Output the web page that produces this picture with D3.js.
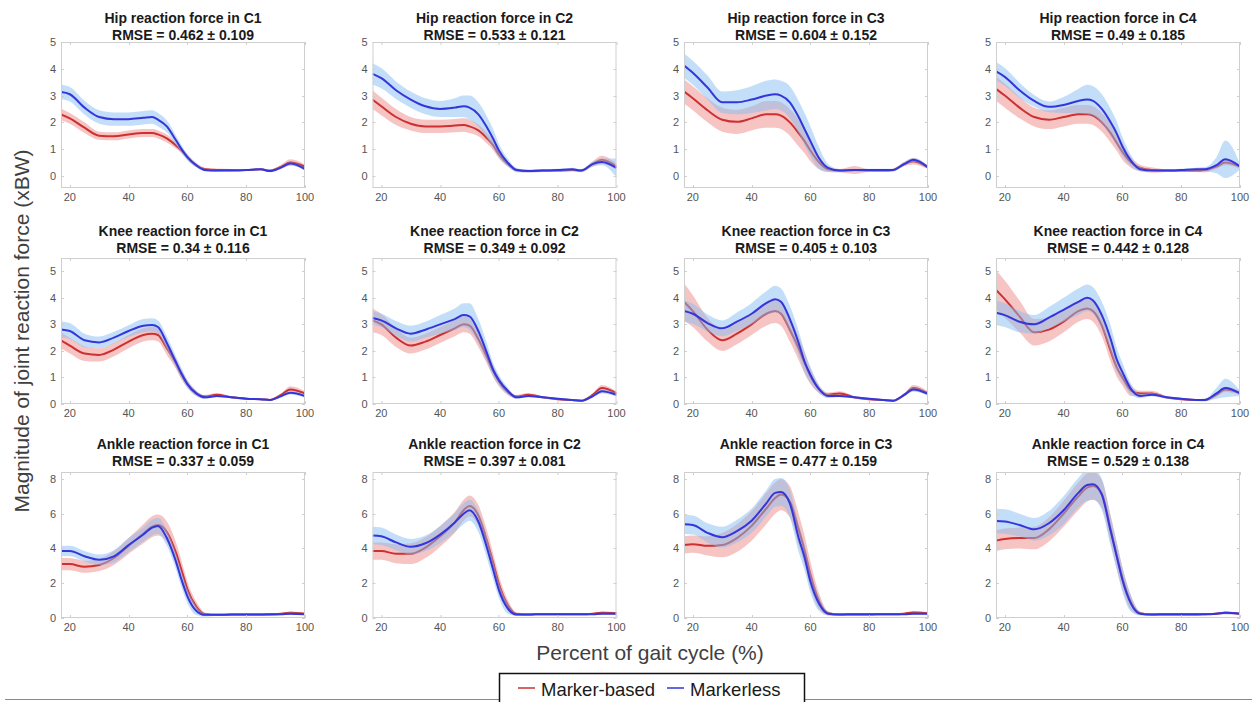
<!DOCTYPE html>
<html>
<head>
<meta charset="utf-8">
<script src="https://cdn.jsdelivr.net/npm/d3@7"></script>
<style>
  html, body { margin: 0; padding: 0; background: #fff; }
  svg { display: block; font-family: Arial, "Liberation Sans", Helvetica, sans-serif; }
</style>
</head>
<body>
<svg id="chart" width="1252" height="702"></svg>
<script>
// Percent of gait cycle sample points shared by every panel
const gaitPct = [17, 20, 25, 30, 35, 40, 45, 48, 50, 53, 56, 58, 60, 63, 66, 70, 75, 80, 85, 88, 92, 95, 100];

const joints = ["Hip", "Knee", "Ankle"];
const conditions = ["C1", "C2", "C3", "C4"];
const xTicks = [20, 40, 60, 80, 100];
const yTicksHipKnee = [0, 1, 2, 3, 4, 5];
const yTicksAnkle = [0, 2, 4, 6, 8];

// RMSE between systems (mean, sd) per joint and condition
const hipRmseMean = [0.462, 0.533, 0.604, 0.49];
const hipRmseSd = [0.109, 0.121, 0.152, 0.185];
const kneeRmseMean = [0.34, 0.349, 0.405, 0.442];
const kneeRmseSd = [0.116, 0.092, 0.103, 0.128];
const ankleRmseMean = [0.337, 0.397, 0.477, 0.529];
const ankleRmseSd = [0.059, 0.081, 0.159, 0.138];

// ---- Hip (xBW) ----
const hipC1Marker = [2.3,2.15,1.8,1.5,1.48,1.55,1.6,1.6,1.55,1.4,1.15,0.95,0.7,0.4,0.25,0.22,0.22,0.22,0.25,0.2,0.35,0.5,0.35];
const hipC1MarkerSd = [0.22,0.2,0.2,0.15,0.15,0.15,0.15,0.15,0.15,0.15,0.12,0.1,0.1,0.08,0.06,0.06,0.04,0.04,0.04,0.04,0.08,0.12,0.08];
const hipC1Markerless = [3.13,3.05,2.55,2.2,2.12,2.12,2.17,2.2,2.1,1.85,1.35,1.0,0.7,0.4,0.22,0.2,0.2,0.22,0.25,0.18,0.32,0.46,0.25];
const hipC1MarkerlessSd = [0.27,0.27,0.26,0.25,0.25,0.25,0.25,0.25,0.25,0.22,0.18,0.15,0.12,0.08,0.05,0.04,0.04,0.04,0.05,0.04,0.05,0.06,0.06];

const hipC2Marker = [2.85,2.6,2.2,1.95,1.85,1.85,1.88,1.9,1.85,1.7,1.4,1.15,0.8,0.45,0.22,0.18,0.2,0.2,0.22,0.2,0.45,0.6,0.35];
const hipC2MarkerSd = [0.35,0.33,0.3,0.25,0.25,0.25,0.25,0.25,0.25,0.22,0.2,0.18,0.15,0.1,0.06,0.05,0.05,0.05,0.05,0.05,0.1,0.15,0.1];
const hipC2Markerless = [3.81,3.65,3.2,2.85,2.6,2.5,2.55,2.6,2.55,2.3,1.8,1.4,0.95,0.5,0.22,0.18,0.2,0.22,0.25,0.2,0.45,0.52,0.3];
const hipC2MarkerlessSd = [0.4,0.38,0.33,0.3,0.3,0.3,0.35,0.4,0.45,0.45,0.4,0.35,0.25,0.15,0.08,0.05,0.05,0.05,0.06,0.06,0.1,0.12,0.35];

const hipC3Marker = [3.15,2.9,2.45,2.1,2.02,2.15,2.3,2.3,2.25,2.0,1.6,1.3,0.95,0.5,0.25,0.2,0.22,0.2,0.2,0.22,0.45,0.55,0.32];
const hipC3MarkerSd = [0.45,0.45,0.45,0.45,0.45,0.45,0.5,0.5,0.5,0.5,0.5,0.45,0.4,0.25,0.1,0.06,0.15,0.05,0.05,0.05,0.08,0.12,0.06];
const hipC3Markerless = [4.12,3.85,3.3,2.75,2.75,2.85,3.0,3.05,3.0,2.75,2.2,1.75,1.3,0.65,0.3,0.2,0.22,0.22,0.22,0.22,0.45,0.6,0.32];
const hipC3MarkerlessSd = [0.45,0.45,0.45,0.4,0.45,0.5,0.55,0.55,0.55,0.6,0.6,0.6,0.55,0.4,0.15,0.06,0.05,0.05,0.05,0.05,0.08,0.08,0.06];

const hipC4Marker = [3.25,3.0,2.55,2.2,2.1,2.2,2.3,2.3,2.25,2.0,1.6,1.25,0.9,0.5,0.3,0.22,0.2,0.2,0.2,0.22,0.35,0.5,0.35];
const hipC4MarkerSd = [0.45,0.45,0.4,0.35,0.35,0.35,0.35,0.35,0.35,0.35,0.35,0.3,0.3,0.2,0.12,0.1,0.05,0.05,0.05,0.08,0.08,0.1,0.08];
const hipC4Markerless = [3.9,3.7,3.2,2.8,2.58,2.65,2.8,2.85,2.8,2.5,2.0,1.6,1.1,0.55,0.25,0.2,0.2,0.22,0.25,0.25,0.4,0.62,0.35];
const hipC4MarkerlessSd = [0.35,0.33,0.28,0.22,0.2,0.3,0.45,0.55,0.55,0.55,0.5,0.45,0.35,0.2,0.08,0.05,0.05,0.05,0.06,0.08,0.3,0.7,0.1];

// ---- Knee (xBW) ----
const kneeC1Marker = [2.4,2.2,1.9,1.85,2.05,2.35,2.6,2.65,2.6,2.1,1.55,1.1,0.75,0.4,0.28,0.35,0.25,0.2,0.18,0.15,0.35,0.55,0.4];
const kneeC1MarkerSd = [0.3,0.3,0.28,0.25,0.25,0.25,0.25,0.25,0.25,0.25,0.2,0.18,0.15,0.1,0.06,0.06,0.04,0.04,0.04,0.04,0.06,0.12,0.08];
const kneeC1Markerless = [2.81,2.75,2.4,2.32,2.5,2.75,2.95,2.98,2.9,2.3,1.6,1.15,0.75,0.4,0.25,0.3,0.25,0.2,0.18,0.15,0.3,0.42,0.3];
const kneeC1MarkerlessSd = [0.3,0.3,0.25,0.22,0.22,0.22,0.25,0.25,0.25,0.25,0.22,0.2,0.15,0.1,0.06,0.05,0.04,0.04,0.04,0.04,0.05,0.06,0.06];

const kneeC2Marker = [3.15,3.0,2.5,2.2,2.35,2.6,2.85,3.0,2.95,2.45,1.75,1.25,0.85,0.45,0.28,0.35,0.25,0.18,0.15,0.12,0.35,0.6,0.4];
const kneeC2MarkerSd = [0.45,0.4,0.35,0.3,0.3,0.3,0.3,0.3,0.3,0.3,0.25,0.22,0.18,0.12,0.06,0.06,0.04,0.04,0.04,0.04,0.06,0.12,0.08];
const kneeC2Markerless = [3.24,3.15,2.85,2.65,2.8,3.0,3.2,3.35,3.3,2.75,1.9,1.3,0.9,0.5,0.25,0.3,0.25,0.2,0.15,0.12,0.3,0.48,0.35];
const kneeC2MarkerlessSd = [0.25,0.25,0.28,0.3,0.3,0.35,0.4,0.45,0.5,0.45,0.35,0.25,0.2,0.12,0.06,0.05,0.04,0.04,0.04,0.04,0.05,0.08,0.06];

const kneeC3Marker = [3.85,3.5,2.8,2.4,2.65,3.0,3.4,3.5,3.4,2.8,2.1,1.55,1.05,0.55,0.35,0.4,0.25,0.18,0.15,0.12,0.35,0.6,0.4];
const kneeC3MarkerSd = [0.7,0.6,0.45,0.4,0.4,0.4,0.45,0.45,0.45,0.45,0.45,0.4,0.3,0.15,0.08,0.08,0.05,0.04,0.04,0.04,0.06,0.12,0.08];
const kneeC3Markerless = [3.5,3.4,3.05,2.85,3.1,3.4,3.8,3.95,3.85,3.2,2.3,1.6,1.1,0.55,0.3,0.3,0.25,0.2,0.15,0.12,0.35,0.55,0.38];
const kneeC3MarkerlessSd = [0.4,0.38,0.32,0.3,0.35,0.4,0.45,0.5,0.5,0.5,0.45,0.4,0.3,0.15,0.08,0.05,0.04,0.04,0.04,0.04,0.06,0.08,0.06];

const kneeC4Marker = [4.3,3.95,3.3,2.7,2.8,3.1,3.5,3.6,3.5,2.95,2.0,1.4,1.0,0.5,0.4,0.4,0.25,0.18,0.15,0.15,0.35,0.55,0.42];
const kneeC4MarkerSd = [0.75,0.7,0.6,0.5,0.45,0.4,0.4,0.4,0.4,0.4,0.4,0.35,0.3,0.2,0.1,0.1,0.05,0.04,0.04,0.05,0.08,0.1,0.08];
const kneeC4Markerless = [3.44,3.35,3.1,3.0,3.25,3.55,3.85,4.0,3.9,3.35,2.45,1.7,1.2,0.55,0.3,0.35,0.25,0.2,0.15,0.15,0.4,0.6,0.4];
const kneeC4MarkerlessSd = [0.45,0.45,0.4,0.35,0.4,0.45,0.5,0.5,0.5,0.5,0.5,0.45,0.35,0.2,0.08,0.06,0.05,0.04,0.04,0.05,0.2,0.35,0.1];

// ---- Ankle (xBW) ----
const ankleC1Marker = [3.1,3.1,2.95,3.05,3.45,4.15,4.85,5.25,5.35,4.95,3.8,2.75,1.65,0.65,0.22,0.18,0.2,0.2,0.2,0.22,0.25,0.3,0.25];
const ankleC1MarkerSd = [0.35,0.35,0.35,0.35,0.4,0.45,0.55,0.6,0.6,0.6,0.6,0.55,0.45,0.3,0.1,0.05,0.05,0.05,0.05,0.05,0.05,0.08,0.06];
const ankleC1Markerless = [3.85,3.85,3.55,3.35,3.55,4.2,4.8,5.2,5.3,4.6,3.3,2.2,1.25,0.42,0.18,0.18,0.2,0.2,0.2,0.2,0.22,0.25,0.22];
const ankleC1MarkerlessSd = [0.3,0.3,0.3,0.3,0.35,0.4,0.4,0.45,0.45,0.45,0.45,0.45,0.4,0.25,0.1,0.05,0.05,0.05,0.05,0.05,0.05,0.06,0.05];

const ankleC2Marker = [3.85,3.85,3.7,3.7,4.05,4.7,5.5,6.2,6.45,5.9,4.4,3.2,1.95,0.75,0.23,0.2,0.22,0.22,0.22,0.22,0.25,0.3,0.28];
const ankleC2MarkerSd = [0.5,0.5,0.55,0.6,0.6,0.6,0.6,0.6,0.6,0.6,0.6,0.55,0.5,0.3,0.1,0.05,0.05,0.05,0.05,0.05,0.05,0.08,0.06];
const ankleC2Markerless = [4.75,4.7,4.35,4.1,4.3,4.8,5.5,6.0,6.2,5.55,4.0,2.8,1.6,0.55,0.2,0.2,0.22,0.22,0.22,0.22,0.22,0.25,0.25];
const ankleC2MarkerlessSd = [0.5,0.5,0.45,0.45,0.45,0.5,0.55,0.6,0.6,0.6,0.6,0.55,0.45,0.3,0.08,0.05,0.05,0.05,0.05,0.05,0.05,0.05,0.05];

const ankleC3Marker = [4.2,4.25,4.15,4.2,4.6,5.3,6.3,6.9,7.1,6.7,5.1,3.9,2.5,0.95,0.28,0.2,0.2,0.2,0.22,0.22,0.25,0.32,0.28];
const ankleC3MarkerSd = [0.5,0.5,0.55,0.7,0.8,0.85,0.9,0.9,0.9,0.9,0.9,0.85,0.75,0.45,0.12,0.05,0.05,0.05,0.05,0.05,0.06,0.08,0.06];
const ankleC3Markerless = [5.39,5.35,4.9,4.65,5.0,5.6,6.6,7.2,7.25,6.6,4.6,3.5,2.1,0.8,0.25,0.2,0.22,0.22,0.22,0.22,0.22,0.25,0.25];
const ankleC3MarkerlessSd = [0.55,0.55,0.55,0.6,0.65,0.7,0.75,0.8,0.8,0.8,0.8,0.75,0.65,0.4,0.1,0.05,0.05,0.05,0.05,0.05,0.05,0.05,0.05];

const ankleC4Marker = [4.45,4.55,4.6,4.6,5.1,6.0,7.0,7.5,7.6,7.15,5.1,3.65,2.3,0.85,0.28,0.2,0.2,0.2,0.2,0.22,0.25,0.3,0.25];
const ankleC4MarkerSd = [0.6,0.6,0.6,0.65,0.7,0.75,0.8,0.8,0.8,0.8,0.8,0.75,0.65,0.4,0.1,0.05,0.05,0.05,0.05,0.05,0.06,0.08,0.06];
const ankleC4Markerless = [5.58,5.55,5.35,5.1,5.45,6.2,7.2,7.65,7.7,7.1,5.0,3.6,2.2,0.8,0.25,0.2,0.22,0.22,0.22,0.22,0.25,0.3,0.25];
const ankleC4MarkerlessSd = [0.7,0.7,0.65,0.65,0.7,0.8,0.85,0.9,0.9,0.9,0.85,0.8,0.7,0.45,0.1,0.05,0.05,0.05,0.05,0.05,0.05,0.08,0.05];

// Assemble the 3x4 grid of panels
const panelSeries = [
  [[hipC1Marker, hipC1MarkerSd, hipC1Markerless, hipC1MarkerlessSd],
   [hipC2Marker, hipC2MarkerSd, hipC2Markerless, hipC2MarkerlessSd],
   [hipC3Marker, hipC3MarkerSd, hipC3Markerless, hipC3MarkerlessSd],
   [hipC4Marker, hipC4MarkerSd, hipC4Markerless, hipC4MarkerlessSd]],
  [[kneeC1Marker, kneeC1MarkerSd, kneeC1Markerless, kneeC1MarkerlessSd],
   [kneeC2Marker, kneeC2MarkerSd, kneeC2Markerless, kneeC2MarkerlessSd],
   [kneeC3Marker, kneeC3MarkerSd, kneeC3Markerless, kneeC3MarkerlessSd],
   [kneeC4Marker, kneeC4MarkerSd, kneeC4Markerless, kneeC4MarkerlessSd]],
  [[ankleC1Marker, ankleC1MarkerSd, ankleC1Markerless, ankleC1MarkerlessSd],
   [ankleC2Marker, ankleC2MarkerSd, ankleC2Markerless, ankleC2MarkerlessSd],
   [ankleC3Marker, ankleC3MarkerSd, ankleC3Markerless, ankleC3MarkerlessSd],
   [ankleC4Marker, ankleC4MarkerSd, ankleC4Markerless, ankleC4MarkerlessSd]]
];
const rmseMeans = [hipRmseMean, kneeRmseMean, ankleRmseMean];
const rmseSds = [hipRmseSd, kneeRmseSd, ankleRmseSd];
const yDomains = [[-0.45, 5], [0, 5.5], [0, 8.4]];
const yTickSets = [yTicksHipKnee, yTicksHipKnee, yTicksAnkle];

// Layout
const colLeft = [61, 372.5, 684, 996];
const panelW = 244;
const rowTop = [42, 258, 472];
const panelH = 146;
const titleBase = [[23, 39.5], [236, 252.5], [449, 466]];

const C = {
  markerLine: "#cc3030",
  markerFill: "#f08a8a",
  markerlessLine: "#3535dc",
  markerlessFill: "#87bdf2",
  box: "#cfcfcf",
  tickText: "#555555"
};

const svg = d3.select("#chart");
const defs = svg.append("defs");

joints.forEach((joint, r) => {
  conditions.forEach((cond, c) => {
    const [mk, mkSd, ml, mlSd] = panelSeries[r][c];
    const x = d3.scaleLinear().domain([17, 100]).range([0, panelW]);
    const y = d3.scaleLinear().domain(yDomains[r]).range([panelH, 0]);

    const g = svg.append("g").attr("transform", `translate(${colLeft[c]},${rowTop[r]})`);
    const clipId = `clip-${r}-${c}`;
    defs.append("clipPath").attr("id", clipId)
      .append("rect").attr("width", panelW).attr("height", panelH);

    const plot = g.append("g").attr("clip-path", `url(#${clipId})`);

    const band = (mean, sd) => d3.area()
      .curve(d3.curveMonotoneX)
      .x((d, i) => x(gaitPct[i]))
      .y0((d, i) => y(mean[i] - sd[i]))
      .y1((d, i) => y(mean[i] + sd[i]))(mean);
    const line = (mean) => d3.line()
      .curve(d3.curveMonotoneX)
      .x((d, i) => x(gaitPct[i]))
      .y(d => y(d))(mean);

    plot.append("path").attr("d", band(mk, mkSd))
      .attr("fill", C.markerFill).attr("fill-opacity", 0.5);
    plot.append("path").attr("d", line(mk))
      .attr("fill", "none").attr("stroke", C.markerLine).attr("stroke-width", 2);
    plot.append("path").attr("d", band(ml, mlSd))
      .attr("fill", C.markerlessFill).attr("fill-opacity", 0.5);
    plot.append("path").attr("d", line(ml))
      .attr("fill", "none").attr("stroke", C.markerlessLine).attr("stroke-width", 2);

    // Box with inward ticks on all four sides
    g.append("rect").attr("x", 0.5).attr("y", 0.5)
      .attr("width", panelW - 1).attr("height", panelH - 1)
      .attr("fill", "none").attr("stroke", C.box).attr("stroke-width", 1);

    const tl = 3;
    xTicks.forEach(t => {
      const px = Math.round(x(t)) + 0.5;
      g.append("line").attr("x1", px).attr("x2", px).attr("y1", panelH).attr("y2", panelH - tl).attr("stroke", C.box);
      g.append("line").attr("x1", px).attr("x2", px).attr("y1", 0).attr("y2", tl).attr("stroke", C.box);
      g.append("text").attr("x", x(t)).attr("y", panelH + 13)
        .attr("text-anchor", "middle").attr("font-size", 11).attr("fill", C.tickText).text(t);
    });
    yTickSets[r].forEach(t => {
      const py = Math.round(y(t)) + 0.5;
      g.append("line").attr("x1", 0).attr("x2", tl).attr("y1", py).attr("y2", py).attr("stroke", C.box);
      g.append("line").attr("x1", panelW).attr("x2", panelW - tl).attr("y1", py).attr("y2", py).attr("stroke", C.box);
      g.append("text").attr("x", -5).attr("y", y(t) + 4)
        .attr("text-anchor", "end").attr("font-size", 11).attr("fill", C.tickText).text(t);
    });

    // Two-line panel title
    const cx = colLeft[c] + panelW / 2;
    svg.append("text").attr("x", cx).attr("y", titleBase[r][0])
      .attr("text-anchor", "middle").attr("font-size", 14).attr("font-weight", "bold").attr("fill", "#1a1a1a")
      .text(`${joint} reaction force in ${cond}`);
    svg.append("text").attr("x", cx).attr("y", titleBase[r][1])
      .attr("text-anchor", "middle").attr("font-size", 14).attr("font-weight", "bold").attr("fill", "#1a1a1a")
      .text(`RMSE = ${rmseMeans[r][c]} \u00B1 ${rmseSds[r][c]}`);
  });
});

// Shared axis titles
svg.append("text")
  .attr("transform", "translate(29,331) rotate(-90)")
  .attr("text-anchor", "middle").attr("font-size", 21).attr("fill", "#404040")
  .text("Magnitude of joint reaction force (xBW)");
svg.append("text")
  .attr("x", 650).attr("y", 660)
  .attr("text-anchor", "middle").attr("font-size", 21).attr("fill", "#404040")
  .text("Percent of gait cycle (%)");

// Separator rule and legend
svg.append("line").attr("x1", 5).attr("x2", 1252).attr("y1", 699.5).attr("y2", 699.5)
  .attr("stroke", "#8a8a8a").attr("stroke-width", 1);
const legend = svg.append("g");
legend.append("rect").attr("x", 499.5).attr("y", 673.5).attr("width", 305).attr("height", 40)
  .attr("fill", "#fff").attr("stroke", "#111").attr("stroke-width", 1.5);
const legendItems = [
  { label: "Marker-based", color: C.markerLine, x: 518 },
  { label: "Markerless", color: C.markerlessLine, x: 667 }
];
legendItems.forEach(it => {
  legend.append("line").attr("x1", it.x).attr("x2", it.x + 17).attr("y1", 688).attr("y2", 688)
    .attr("stroke", it.color).attr("stroke-width", 1.5);
  legend.append("text").attr("x", it.x + 23).attr("y", 696)
    .attr("font-size", 18.5).attr("fill", "#1a1a1a").text(it.label);
});
</script>
</body>
</html>
